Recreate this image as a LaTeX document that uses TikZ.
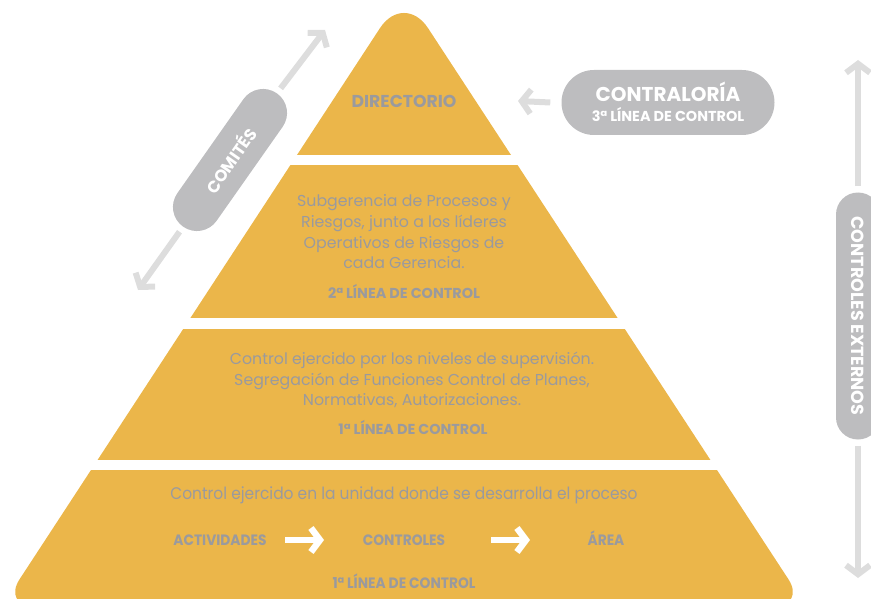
\documentclass[tikz,border=0pt]{standalone}
\usepackage{fontspec}
\setmainfont{Poppins}
\newfontfamily\condfont[FakeStretch=0.92]{Poppins}
\usetikzlibrary{arrows.meta,shapes.misc,calc}
\definecolor{pyr}{HTML}{EBB64A}
\definecolor{txt}{HTML}{9A9A9E}
\definecolor{pillc}{HTML}{BDBDBF}
\definecolor{arrc}{HTML}{DDDDDD}
\tikzset{
  body/.style={text=txt, align=center, font=\fontsize{15.8}{20.7}\selectfont, inner sep=0},
  lvl/.style={text=txt, font=\bfseries\fontsize{14.4}{16}\selectfont, inner sep=0},
  dirl/.style={text=txt, font=\bfseries\fontsize{17.2}{19}\selectfont, inner sep=0},
  cbody/.style={text=txt, font=\condfont\fontsize{16.8}{19}\selectfont, inner sep=0},
  clvl/.style={text=txt, font=\condfont\bfseries\fontsize{15}{17}\selectfont, inner sep=0},
  pillst/.style={rounded rectangle, fill=pillc, text=white, inner sep=0},
  garr/.style={draw=arrc, line width=6pt, -{Straight Barb[length=9pt,width=24pt]}},
  warr/.style={draw=white, line width=6.5pt, -{Straight Barb[length=9pt,width=24pt]}}
}
\begin{document}
\begin{tikzpicture}[x=1pt,y=-1pt]
\useasboundingbox (0,0) rectangle (871,599);
\begin{scope}
\clip (0,0) rectangle (871,599);
% pyramid
\fill[pyr] (404,606) [rounded corners=32] -- (805.9,606) -- (599.3,290)
  [rounded corners=44] -- (404,-8.6) -- (208.7,290)
  [rounded corners=32] -- (2.1,606) -- cycle;
\fill[white] (250,155.5) rectangle (560,165.5);
\fill[white] (150,317.5) rectangle (660,328.5);
\fill[white] (60,459.5) rectangle (750,469.5);

% level texts
\node[dirl] (dir) at (404,101) {DIRECTORIO};
\node[body] (l2) at (404,232) {Subgerencia de Procesos y\\Riesgos, junto a los líderes\\Operativos de Riesgos de\\cada Gerencia.};
\node[lvl] (l2b) at (404,292) {2ª LÍNEA DE CONTROL};
\node[body] (l3) at (412,380) {Control ejercido por los niveles de supervisión.\\Segregación de Funciones Control de Planes,\\Normativas, Autorizaciones.};
\node[lvl] (l3b) at (413,428) {1ª LÍNEA DE CONTROL};
\node[cbody] (l4) at (404,495) {Control ejercido en la unidad donde se desarrolla el proceso};
\node[clvl, anchor=base] (act) at (220,545.5) {ACTIVIDADES};
\node[clvl, anchor=base] (ctl) at (404,545.5) {CONTROLES};
\node[clvl, anchor=base] (area) at (606,545.5) {ÁREA};
\node[clvl] (l4b) at (404,581) {1ª LÍNEA DE CONTROL};
\coordinate (w1a) at (285,540);
\coordinate (w1b) at (324,540);
\coordinate (w2a) at (491,540);
\coordinate (w2b) at (530,540);
\draw[warr] (w1a) -- (w1b);
\draw[warr] (w2a) -- (w2b);

% contraloria
\node[pillst, minimum width=213pt, minimum height=65pt] (contra) at (668,102.5) {};
\node[text=white, font=\bfseries\fontsize{20}{22}\selectfont, inner sep=0] (contraT) at (668,92) {CONTRALORÍA};
\node[text=white, font=\bfseries\fontsize{14.4}{16}\selectfont, inner sep=0] (contraS) at (668,115) {3ª LÍNEA DE CONTROL};
\coordinate (contraTip) at (518,101);
\draw[garr] ([xshift=-11pt]contra.west) -- (contraTip);

% comites
\node[pillst, rotate=54.9, minimum width=163pt, minimum height=48pt, font=\bfseries\fontsize{16.5}{18}\selectfont] (com) at (230,160) {COMITÉS};
\coordinate (comTop) at (325,30);
\coordinate (comBot) at (138,290);
\draw[garr] ($(com.east)!6pt!(comTop)$) -- (comTop);
\draw[garr] ($(com.west)!6pt!(comBot)$) -- (comBot);

% controles externos
\node[pillst, rotate=-90, minimum width=247pt, minimum height=44pt, font=\bfseries\fontsize{17.5}{19}\selectfont] (ext) at (858,316) {CONTROLES EXTERNOS};
\coordinate (extTop) at (858,60);
\coordinate (extBot) at (858,578);
\draw[garr] ($(ext.west)!6pt!(extTop)$) -- (extTop);
\draw[garr] ($(ext.east)!6pt!(extBot)$) -- (extBot);
\end{scope}
\end{tikzpicture}
\end{document}
